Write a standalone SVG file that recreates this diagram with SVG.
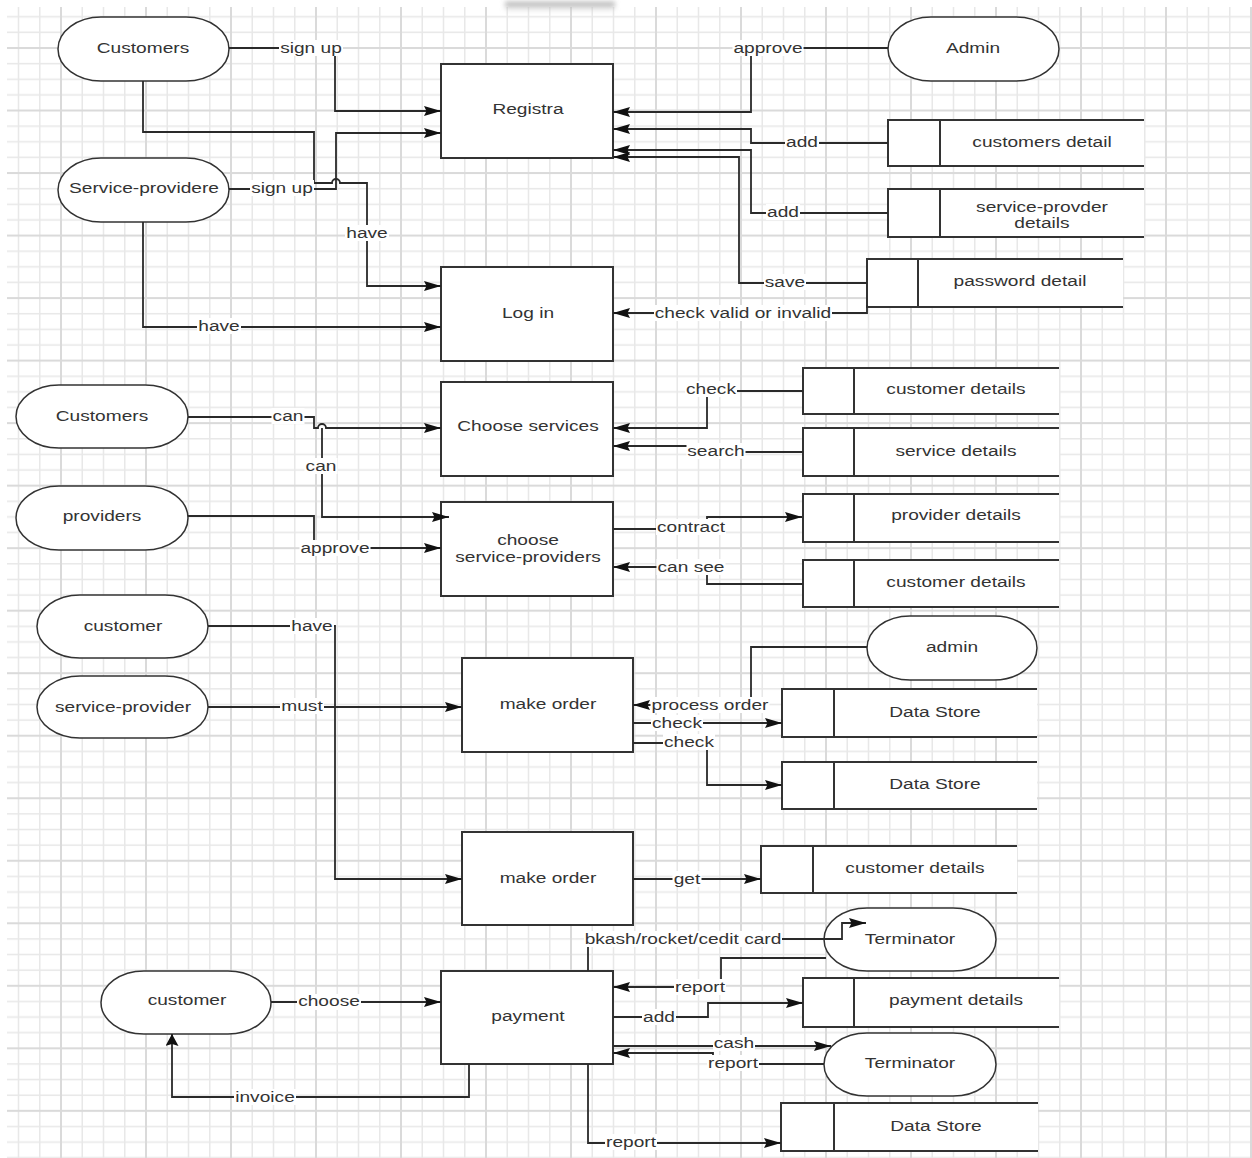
<svg xmlns="http://www.w3.org/2000/svg" width="1252" height="1158" viewBox="0 0 1252 1158">
<defs>
<style>
.term{fill:#fff;stroke:#333;stroke-width:1.5}
.proc{fill:#fff;stroke:#333;stroke-width:2}
.sbg{fill:#fff}
.store{fill:none;stroke:#333;stroke-width:2}
.edge{fill:none;stroke:#2a2a2a;stroke-width:1.8}
.arr{marker-end:url(#ah)}
.arrv{marker-end:url(#av)}
.lbg{fill:#fff}
.t{font-family:"Liberation Sans",Arial,sans-serif;font-size:14.5px;fill:#333;text-anchor:middle}
</style>
<pattern id="grid" patternUnits="userSpaceOnUse" x="60" y="47" width="85" height="62.52">
<rect width="85" height="62.52" fill="#fff"/>
<g fill="#e8e8e8">
<rect x="21.5" y="0" width="1.5" height="62.52"/>
<rect x="42.75" y="0" width="1.5" height="62.52"/>
<rect x="64" y="0" width="1.5" height="62.52"/>
<rect x="0" y="15.88" width="85" height="1.5"/>
<rect x="0" y="31.51" width="85" height="1.5"/>
<rect x="0" y="47.14" width="85" height="1.5"/>
</g>
<g fill="#dadada">
<rect x="0" y="0" width="2" height="62.52"/>
<rect x="0" y="0" width="85" height="2"/>
</g>
</pattern>
<linearGradient id="shadow" x1="0" y1="0" x2="0" y2="1">
<stop offset="0" stop-color="#8a8a8a" stop-opacity="0.9"/>
<stop offset="1" stop-color="#ffffff" stop-opacity="0"/>
</linearGradient>
<filter id="blur" x="-20%" y="-60%" width="140%" height="220%"><feGaussianBlur stdDeviation="2.5"/></filter>
<marker id="ah" markerUnits="userSpaceOnUse" viewBox="0 0 17 10" markerWidth="17" markerHeight="10" refX="17" refY="5" orient="auto">
<path d="M0,0 L17,5 L0,10 L2.5,5 Z" fill="#111"/>
</marker>
<marker id="av" markerUnits="userSpaceOnUse" viewBox="0 0 12 13" markerWidth="12" markerHeight="13" refX="12" refY="6.5" orient="auto">
<path d="M0,0 L12,6.5 L0,13 L2,6.5 Z" fill="#111"/>
</marker>
</defs>

<rect width="1252" height="1158" fill="#fff"/>
<rect x="7" y="7" width="1245" height="1151" fill="url(#grid)"/>
<rect x="505" y="2" width="110" height="12" fill="url(#shadow)" filter="url(#blur)"/>

<g id="nodes">
<g id="t-customers1"><rect class="term" x="58" y="17" width="171" height="64" rx="43" ry="32"/><text class="t" transform="translate(143 53) scale(1.32 1)">Customers</text></g>
<g id="t-admin1"><rect class="term" x="888" y="17" width="171" height="64" rx="43" ry="32"/><text class="t" transform="translate(973 53) scale(1.32 1)">Admin</text></g>
<g id="t-serviceprovidere"><rect class="term" x="58" y="158" width="171" height="64" rx="43" ry="32"/><text class="t" transform="translate(144 193) scale(1.32 1)">Service-providere</text></g>
<g id="t-customers2"><rect class="term" x="16" y="385" width="172" height="63" rx="43" ry="31.5"/><text class="t" transform="translate(102 421) scale(1.32 1)">Customers</text></g>
<g id="t-providers"><rect class="term" x="16" y="486" width="172" height="64" rx="43" ry="32"/><text class="t" transform="translate(102 521) scale(1.32 1)">providers</text></g>
<g id="t-customer3"><rect class="term" x="37" y="595" width="171" height="63" rx="43" ry="31.5"/><text class="t" transform="translate(123 631) scale(1.32 1)">customer</text></g>
<g id="t-serviceprovider"><rect class="term" x="37" y="676" width="171" height="62" rx="43" ry="31"/><text class="t" transform="translate(123 712) scale(1.32 1)">service-provider</text></g>
<g id="t-admin2"><rect class="term" x="867" y="616" width="170" height="64" rx="43" ry="32"/><text class="t" transform="translate(952 652) scale(1.32 1)">admin</text></g>
<g id="t-terminator1"><rect class="term" x="824" y="908" width="172" height="63" rx="43" ry="31.5"/><text class="t" transform="translate(910 944) scale(1.32 1)">Terminator</text></g>
<g id="t-customer4"><rect class="term" x="101" y="971" width="170" height="63" rx="43" ry="31.5"/><text class="t" transform="translate(187 1005) scale(1.32 1)">customer</text></g>
<g id="t-terminator2"><rect class="term" x="824" y="1033" width="172" height="63" rx="43" ry="31.5"/><text class="t" transform="translate(910 1068) scale(1.32 1)">Terminator</text></g>

<g id="p-registra"><rect class="proc" x="441" y="64" width="172" height="94"/><text class="t" transform="translate(528 114) scale(1.32 1)">Registra</text></g>
<g id="p-login"><rect class="proc" x="441" y="267" width="172" height="94"/><text class="t" transform="translate(528 318) scale(1.32 1)">Log in</text></g>
<g id="p-chooseservices"><rect class="proc" x="441" y="382" width="172" height="94"/><text class="t" transform="translate(528 431) scale(1.32 1)">Choose services</text></g>
<g id="p-choosesp"><rect class="proc" x="441" y="502" width="172" height="94"/><text class="t" transform="translate(528 545) scale(1.32 1)">choose</text><text class="t" transform="translate(528 562) scale(1.32 1)">service-providers</text></g>
<g id="p-makeorder1"><rect class="proc" x="462" y="658" width="171" height="94"/><text class="t" transform="translate(548 709) scale(1.32 1)">make order</text></g>
<g id="p-makeorder2"><rect class="proc" x="462" y="832" width="171" height="93"/><text class="t" transform="translate(548 883) scale(1.32 1)">make order</text></g>
<g id="p-payment"><rect class="proc" x="441" y="971" width="172" height="93"/><text class="t" transform="translate(528 1021) scale(1.32 1)">payment</text></g>

<g id="s-customersdetail"><rect class="sbg" x="888" y="120" width="256" height="46"/><path class="store" d="M1144,120 H888 V166 H1144 M940,120 V166"/><text class="t" transform="translate(1042 147) scale(1.32 1)">customers detail</text></g>
<g id="s-spdetails"><rect class="sbg" x="888" y="189" width="256" height="48"/><path class="store" d="M1144,189 H888 V237 H1144 M940,189 V237"/><text class="t" transform="translate(1042 212) scale(1.32 1)">service-provder</text><text class="t" transform="translate(1042 228) scale(1.32 1)">details</text></g>
<g id="s-passworddetail"><rect class="sbg" x="867" y="259" width="256" height="48"/><path class="store" d="M1123,259 H867 V307 H1123 M918,259 V307"/><text class="t" transform="translate(1020 286) scale(1.32 1)">password detail</text></g>
<g id="s-customerdetails1"><rect class="sbg" x="803" y="368" width="256" height="46"/><path class="store" d="M1059,368 H803 V414 H1059 M854,368 V414"/><text class="t" transform="translate(956 394) scale(1.32 1)">customer details</text></g>
<g id="s-servicedetails"><rect class="sbg" x="803" y="428" width="256" height="48"/><path class="store" d="M1059,428 H803 V476 H1059 M854,428 V476"/><text class="t" transform="translate(956 456) scale(1.32 1)">service details</text></g>
<g id="s-providerdetails"><rect class="sbg" x="803" y="494" width="256" height="48"/><path class="store" d="M1059,494 H803 V542 H1059 M854,494 V542"/><text class="t" transform="translate(956 520) scale(1.32 1)">provider details</text></g>
<g id="s-customerdetails2"><rect class="sbg" x="803" y="560" width="256" height="47"/><path class="store" d="M1059,560 H803 V607 H1059 M854,560 V607"/><text class="t" transform="translate(956 587) scale(1.32 1)">customer details</text></g>
<g id="s-datastore1"><rect class="sbg" x="782" y="689" width="255" height="48"/><path class="store" d="M1037,689 H782 V737 H1037 M834,689 V737"/><text class="t" transform="translate(935 717) scale(1.32 1)">Data Store</text></g>
<g id="s-datastore2"><rect class="sbg" x="782" y="762" width="255" height="47"/><path class="store" d="M1037,762 H782 V809 H1037 M834,762 V809"/><text class="t" transform="translate(935 789) scale(1.32 1)">Data Store</text></g>
<g id="s-customerdetails3"><rect class="sbg" x="761" y="846" width="256" height="47"/><path class="store" d="M1017,846 H761 V893 H1017 M813,846 V893"/><text class="t" transform="translate(915 873) scale(1.32 1)">customer details</text></g>
<g id="s-paymentdetails"><rect class="sbg" x="803" y="978" width="256" height="49"/><path class="store" d="M1059,978 H803 V1027 H1059 M854,978 V1027"/><text class="t" transform="translate(956 1005) scale(1.32 1)">payment details</text></g>
<g id="s-datastore3"><rect class="sbg" x="781" y="1103" width="257" height="48"/><path class="store" d="M1038,1103 H781 V1151 H1038 M834,1103 V1151"/><text class="t" transform="translate(936 1131) scale(1.32 1)">Data Store</text></g>
</g>

<g id="connectors">
<path class="edge arr" d="M229,48 H335 V111 H441"/>
<path class="edge arr" d="M143,81 V132 H314 V183 H332 A4,4 0 0 1 340,183 H367 V286 H441"/>
<path class="edge arr" d="M229,189 H336 V133 H441"/>
<path class="edge arr" d="M143,222 V327 H441"/>
<path class="edge arr" d="M888,48 H751 V112 H613"/>
<path class="edge arr" d="M888,143 H751 V129 H613"/>
<path class="edge arr" d="M888,213 H751 V150 H613"/>
<path class="edge arr" d="M867,283 H739 V157 H613"/>
<path class="edge arr" d="M867,305 V313 H613"/>
<path class="edge arr" d="M188,417 H314 V428 H318 A4,4 0 0 1 326,428 H441"/>
<path class="edge arr" d="M322,428 V517 H449"/>
<path class="edge arr" d="M188,516 H314 V548 H441"/>
<path class="edge arr" d="M803,391 H707 V428 H613"/>
<path class="edge arr" d="M803,452 H716 V446 H613"/>
<path class="edge arr" d="M613,529 H707 V517 H802"/>
<path class="edge arr" d="M803,584 H707 V567 H613"/>
<path class="edge arr" d="M208,626 H335 V879 H462"/>
<path class="edge arr" d="M208,707 H462"/>
<path class="edge arr" d="M867,647 H751 V705 H633"/>
<path class="edge arr" d="M633,723 H782"/>
<path class="edge arr" d="M633,743 H707 V785 H782"/>
<path class="edge arr" d="M633,879 H761"/>
<path class="edge arr" d="M271,1002 H441"/>
<path class="edge arrv" d="M469,1064 V1097 H172 V1034"/>
<path class="edge arr" d="M588,971 V939 H842 V923 H866"/>
<path class="edge arr" d="M826,958 H721 V987 H613"/>
<path class="edge arr" d="M613,1017 H708 V1003 H803"/>
<path class="edge arr" d="M613,1046 H831"/>
<path class="edge arr" d="M824,1064 H713 V1053 H613"/>
<path class="edge arr" d="M588,1064 V1143 H781"/>

<g id="edge-labels">
<rect class="lbg" x="279" y="40" width="64" height="16"/><text class="t" transform="translate(311 53) scale(1.32 1)">sign up</text>
<rect class="lbg" x="345" y="225" width="44" height="16"/><text class="t" transform="translate(367 238) scale(1.32 1)">have</text>
<rect class="lbg" x="250" y="180" width="64" height="16"/><text class="t" transform="translate(282 193) scale(1.32 1)">sign up</text>
<rect class="lbg" x="197" y="318" width="44" height="16"/><text class="t" transform="translate(219 331) scale(1.32 1)">have</text>
<rect class="lbg" x="732.5" y="40" width="71" height="16"/><text class="t" transform="translate(768 53) scale(1.32 1)">approve</text>
<rect class="lbg" x="785" y="134" width="34" height="16"/><text class="t" transform="translate(802 147) scale(1.32 1)">add</text>
<rect class="lbg" x="766" y="204" width="34" height="16"/><text class="t" transform="translate(783 217) scale(1.32 1)">add</text>
<rect class="lbg" x="764" y="274" width="42" height="16"/><text class="t" transform="translate(785 287) scale(1.32 1)">save</text>
<rect class="lbg" x="654" y="305" width="178" height="16"/><text class="t" transform="translate(743 318) scale(1.32 1)">check valid or invalid</text>
<rect class="lbg" x="271.5" y="408" width="33" height="16"/><text class="t" transform="translate(288 421) scale(1.32 1)">can</text>
<rect class="lbg" x="304.5" y="458" width="33" height="16"/><text class="t" transform="translate(321 471) scale(1.32 1)">can</text>
<rect class="lbg" x="299.5" y="540" width="71" height="16"/><text class="t" transform="translate(335 553) scale(1.32 1)">approve</text>
<rect class="lbg" x="685" y="381" width="52" height="16"/><text class="t" transform="translate(711 394) scale(1.32 1)">check</text>
<rect class="lbg" x="686.5" y="443" width="59" height="16"/><text class="t" transform="translate(716 456) scale(1.32 1)">search</text>
<rect class="lbg" x="656" y="519" width="70" height="16"/><text class="t" transform="translate(691 532) scale(1.32 1)">contract</text>
<rect class="lbg" x="656.5" y="559" width="69" height="16"/><text class="t" transform="translate(691 572) scale(1.32 1)">can see</text>
<rect class="lbg" x="290" y="618" width="44" height="16"/><text class="t" transform="translate(312 631) scale(1.32 1)">have</text>
<rect class="lbg" x="280" y="698" width="44" height="16"/><text class="t" transform="translate(302 711) scale(1.32 1)">must</text>
<rect class="lbg" x="650.5" y="697" width="119" height="16"/><text class="t" transform="translate(710 710) scale(1.32 1)">process order</text>
<rect class="lbg" x="651" y="715" width="52" height="16"/><text class="t" transform="translate(677 728) scale(1.32 1)">check</text>
<rect class="lbg" x="663" y="734" width="52" height="16"/><text class="t" transform="translate(689 747) scale(1.32 1)">check</text>
<rect class="lbg" x="672.5" y="871" width="29" height="16"/><text class="t" transform="translate(687 884) scale(1.32 1)">get</text>
<rect class="lbg" x="297" y="994" width="64" height="16"/><text class="t" transform="translate(329 1006) scale(1.32 1)">choose</text>
<rect class="lbg" x="234" y="1089" width="62" height="16"/><text class="t" transform="translate(265 1102) scale(1.32 1)">invoice</text>
<rect class="lbg" x="584" y="931" width="198" height="16"/><text class="t" transform="translate(683 944) scale(1.32 1)">bkash/rocket/cedit card</text>
<rect class="lbg" x="674" y="979" width="52" height="16"/><text class="t" transform="translate(700 992) scale(1.32 1)">report</text>
<rect class="lbg" x="642" y="1009" width="34" height="16"/><text class="t" transform="translate(659 1022) scale(1.32 1)">add</text>
<rect class="lbg" x="713" y="1035" width="42" height="16"/><text class="t" transform="translate(734 1048) scale(1.32 1)">cash</text>
<rect class="lbg" x="707" y="1055" width="52" height="16"/><text class="t" transform="translate(733 1068) scale(1.32 1)">report</text>
<rect class="lbg" x="605" y="1134" width="52" height="16"/><text class="t" transform="translate(631 1147) scale(1.32 1)">report</text>
</g>
</g>
</svg>
